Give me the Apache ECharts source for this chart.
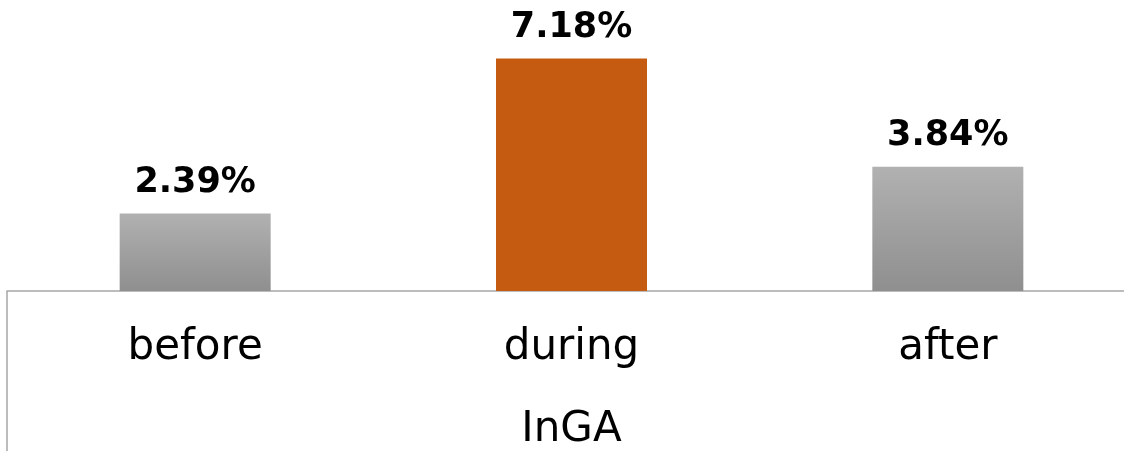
<!DOCTYPE html>
<html>
<head>
<meta charset="utf-8">
<script src="https://cdn.jsdelivr.net/npm/echarts@6/dist/echarts.min.js"></script>
<style>
  html, body { margin: 0; padding: 0; background: #fff; overflow: hidden; }
  /* the plot runs a little past the right edge, like the original */
  .wrap { width: 1124px; height: 451px; overflow: hidden; position: relative; }
  #chart { width: 1136px; height: 451px; position: absolute; left: 0; top: 0; }
</style>
</head>
<body>
<div class="wrap"><div id="chart"></div></div>
<script>
// categories and values (percent)
const categories = ['before', 'during', 'after']
const groupLabel = ['InGA']
const values = [2.39, 7.18, 3.84]

const grayBar = new echarts.graphic.LinearGradient(0, 0, 0, 1, [
  { offset: 0, color: '#b1b1b1' },
  { offset: 1, color: '#8f8f8f' }
])
const barColors = [grayBar, '#c55a11', grayBar]

const chart = echarts.init(document.getElementById('chart'))
const font = '"DejaVu Sans", sans-serif'

const option = {
  backgroundColor: '#fff',
  animation: false,
  grid: { left: 7, right: 0, top: 32, bottom: 158, containLabel: false },
  xAxis: [{
    type: 'category',
    data: categories,
    axisLine: { lineStyle: { color: '#a6a6a6', width: 1.5 } },
    axisTick: { show: false },
    axisLabel: { color: '#000', fontFamily: font, fontSize: 42, margin: 36 }
  }, {
    type: 'category',
    data: groupLabel,
    position: 'bottom',
    axisLine: { show: false },
    axisTick: { show: true, length: 170, lineStyle: { color: '#a6a6a6', width: 1.5 } },
    axisLabel: { color: '#000', fontFamily: font, fontSize: 42, margin: 118 }
  }],
  yAxis: {
    type: 'value',
    min: 0,
    max: 8,
    show: false
  },
  series: [{
    type: 'bar',
    xAxisIndex: 0,
    barWidth: 151,
    data: values.map((v, i) => ({ value: v, itemStyle: { color: barColors[i] } })),
    label: {
      show: true,
      position: 'top',
      distance: 13,
      color: '#000',
      fontFamily: font,
      fontWeight: 'bold',
      fontSize: 35,
      formatter: p => p.value.toFixed(2) + '%'
    }
  }]
}

chart.setOption(option)
</script>
</body>
</html>
